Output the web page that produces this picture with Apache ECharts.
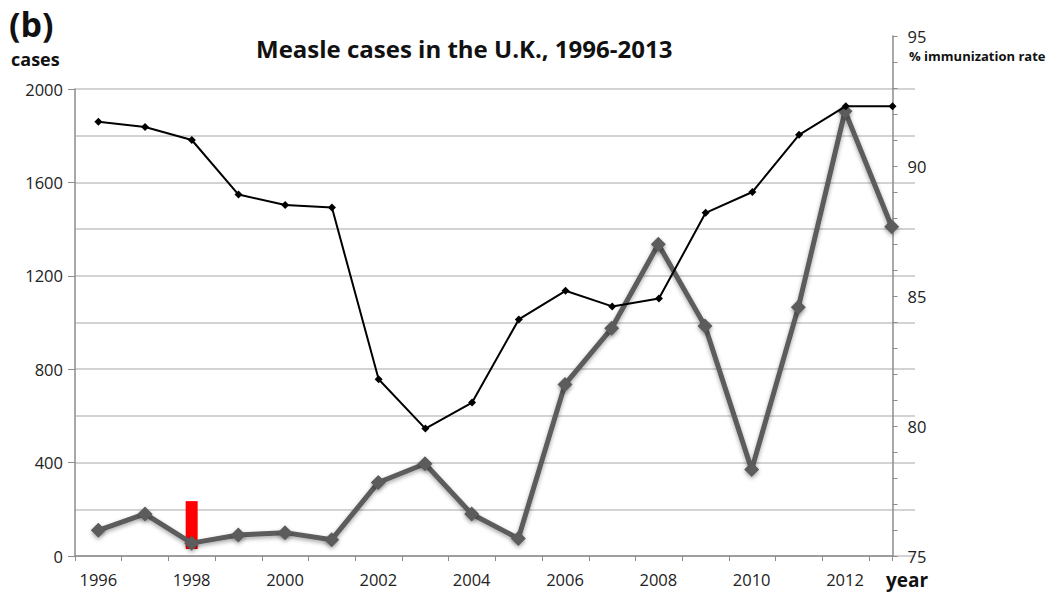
<!DOCTYPE html>
<html>
<head>
<meta charset="utf-8">
<script src="https://cdn.jsdelivr.net/npm/echarts@6/dist/echarts.min.js"></script>
<style>html,body{margin:0;padding:0;background:#fff}#c{width:1049px;height:594px}</style>
</head>
<body>
<div id="c"></div>
<script>
// ---- data ----
const years = ['1996','1997','1998','1999','2000','2001','2002','2003','2004','2005','2006','2007','2008','2009','2010','2011','2012','2013'];
const cases = [110, 180, 55, 90, 100, 70, 315, 395, 180, 75, 735, 975, 1335, 985, 370, 1065, 1905, 1410];
const immunization = [91.7, 91.5, 91.0, 88.9, 88.5, 88.4, 81.8, 79.9, 80.9, 84.1, 85.2, 84.6, 84.9, 88.2, 89.0, 91.2, 92.3, 92.3];
const casesTicks = [0, 400, 800, 1200, 1600, 2000];
const rateTicks = [75, 80, 85, 90, 95];
const markerYear = '1998';
const markerLow = 30;
const markerHigh = 235;

const FONT = '"Open Sans", "Liberation Sans", sans-serif';
const chart = echarts.init(document.getElementById('c'), null, {renderer: 'svg'});

const baseData = years.map(y => y === markerYear ? markerLow : null);
const redData = years.map(y => y === markerYear ? markerHigh - markerLow : null);

chart.setOption({
  animation: false,
  grid: [
    {left: 75, top: 89, width: 840, height: 467},
    {left: 75, top: 36, width: 817.5, height: 520}
  ],
  xAxis: [
    {
      gridIndex: 0, type: 'category', data: years, boundaryGap: true,
      axisLine: {show: false}, axisTick: {show: false},
      axisLabel: {interval: 1, margin: 15, fontSize: 16.5, color: '#222', fontFamily: FONT}
    },
    {
      gridIndex: 1, type: 'value', min: 1995.5, max: 2013, interval: 1,
      axisLine: {show: true, lineStyle: {color: '#8c8c8c', width: 1.5}},
      axisTick: {show: true, length: 5, lineStyle: {color: '#8c8c8c'}},
      axisLabel: {show: false}, splitLine: {show: false}
    }
  ],
  yAxis: [
    {
      gridIndex: 0, type: 'value', min: casesTicks[0], max: casesTicks[casesTicks.length - 1], interval: casesTicks[1] - casesTicks[0],
      axisLine: {show: true, lineStyle: {color: '#8c8c8c', width: 1.5}},
      axisTick: {show: true, length: 7, lineStyle: {color: '#8c8c8c'}},
      axisLabel: {margin: 12, fontSize: 16.5, color: '#222', fontFamily: FONT, formatter: v => String(v)},
      splitLine: {show: true, lineStyle: {color: '#c4c4c4', width: 1.5}},
      minorTick: {show: false, splitNumber: 2},
      minorSplitLine: {show: true, lineStyle: {color: '#c4c4c4', width: 1.5}}
    },
    {
      gridIndex: 1, type: 'value', position: 'right', min: rateTicks[0], max: rateTicks[rateTicks.length - 1], interval: rateTicks[1] - rateTicks[0],
      axisLine: {show: true, lineStyle: {color: '#8c8c8c', width: 1.5}},
      axisTick: {show: true, length: 5, lineStyle: {color: '#8c8c8c'}},
      minorTick: {show: true, splitNumber: 5, length: 5, lineStyle: {color: '#8c8c8c'}},
      axisLabel: {margin: 15, fontSize: 16.5, color: '#222', fontFamily: FONT},
      splitLine: {show: false}
    }
  ],
  series: [
    {
      type: 'bar', xAxisIndex: 0, yAxisIndex: 0, stack: 'mark', data: baseData, barWidth: 12,
      itemStyle: {color: 'rgba(0,0,0,0)'}, silent: true, z: 1
    },
    {
      type: 'bar', xAxisIndex: 0, yAxisIndex: 0, stack: 'mark', data: redData, barWidth: 12,
      itemStyle: {color: '#ff0000'}, z: 1
    },
    {
      type: 'line', xAxisIndex: 0, yAxisIndex: 0, data: cases,
      symbol: 'diamond', symbolSize: 15, z: 3,
      lineStyle: {color: '#5b5b5b', width: 5, shadowBlur: 4, shadowColor: 'rgba(0,0,0,0.35)', shadowOffsetY: 2},
      itemStyle: {color: '#5b5b5b', borderWidth: 0, shadowBlur: 4, shadowColor: 'rgba(0,0,0,0.35)', shadowOffsetY: 2}
    },
    {
      type: 'line', xAxisIndex: 1, yAxisIndex: 1, data: years.map((y, i) => [Number(y), immunization[i]]),
      symbol: 'diamond', symbolSize: 8, z: 4,
      lineStyle: {color: '#000', width: 2},
      itemStyle: {color: '#000', borderWidth: 0}
    }
  ],
  graphic: [
    {type: 'text', left: 9, top: 7, style: {text: '(b)', font: 'bold 34px ' + FONT, fill: '#111'}},
    {type: 'text', left: 11, top: 50, style: {text: 'cases', font: 'bold 18px ' + FONT, fill: '#111'}},
    {type: 'text', left: 256, top: 36, style: {text: 'Measle cases in the U.K., 1996-2013', font: 'bold 24px ' + FONT, fill: '#111'}},
    {type: 'text', left: 909, top: 49, style: {text: '% immunization rate', font: 'bold 13px ' + FONT, fill: '#111'}},
    {type: 'text', left: 886, top: 570, style: {text: 'year', font: 'bold 19px ' + FONT, fill: '#111'}}
  ]
});
</script>
</body>
</html>
